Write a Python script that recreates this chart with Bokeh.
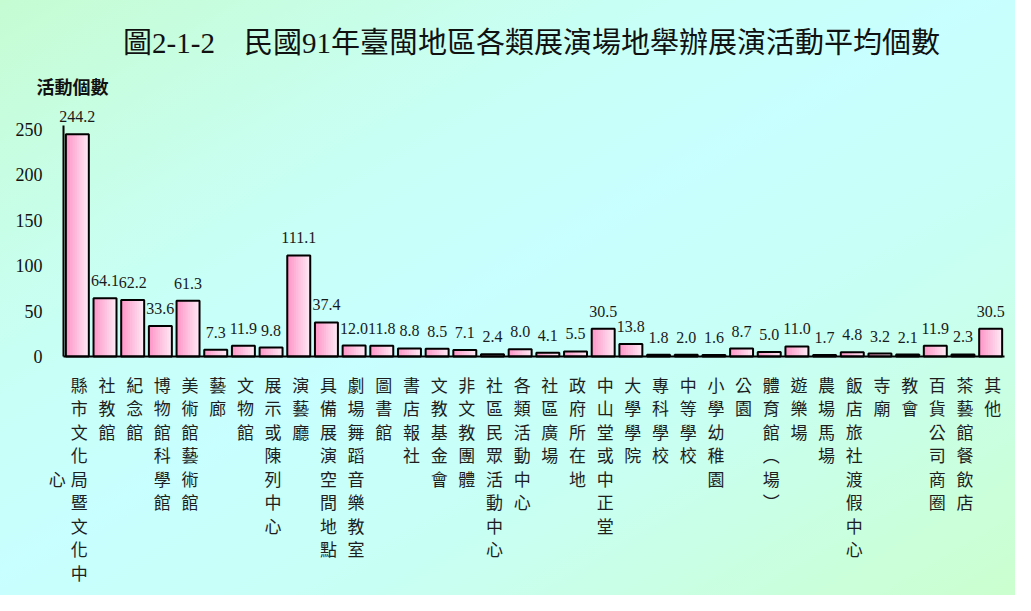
from bokeh.plotting import figure
from bokeh.models import ColumnDataSource, Range1d, Label, FixedTicker
from bokeh.transform import dodge
from bokeh.embed import file_html
from bokeh.resources import INLINE
from bokeh.core.properties import value

# ---------------- data ----------------
categories = [
    "縣市文化局暨文化中心", "社教館", "紀念館", "博物館科學館", "美術館藝術館",
    "藝廊", "文物館", "展示或陳列中心", "演藝廳", "具備展演空間地點",
    "劇場舞蹈音樂教室", "圖書館", "書店報社", "文教基金會", "非文教團體",
    "社區民眾活動中心", "各類活動中心", "社區廣場", "政府所在地", "中山堂或中正堂",
    "大學學院", "專科學校", "中等學校", "小學幼稚園", "公園",
    "體育館︵場︶", "遊樂場", "農場馬場", "飯店旅社渡假中心", "寺廟",
    "教會", "百貨公司商圈", "茶藝館餐飲店", "其他",
]
values = [
    244.2, 64.1, 62.2, 33.6, 61.3,
    7.3, 11.9, 9.8, 111.1, 37.4,
    12.0, 11.8, 8.8, 8.5, 7.1,
    2.4, 8.0, 4.1, 5.5, 30.5,
    13.8, 1.8, 2.0, 1.6, 8.7,
    5.0, 11.0, 1.7, 4.8, 3.2,
    2.1, 11.9, 2.3, 30.5,
]
y_ticks = [0, 50, 100, 150, 200, 250]
title_text = "圖2-1-2\u3000民國91年臺閩地區各類展演場地舉辦展演活動平均個數"
y_title = "活動個數"

# ---------------- layout ----------------
W, H = 1015, 595
n_cat = len(categories)
AX_LEFT, AX_RIGHT = 63.0, 1004.0          # figure px of the category band
px_per_cat = (AX_RIGHT - AX_LEFT) / n_cat
x_start = -0.5 - AX_LEFT / px_per_cat
x_end = n_cat - 0.5 + (W - AX_RIGHT) / px_per_cat

ZERO_PX = 356.0        # figure-relative y of value 0
PX_PER_UNIT = 0.91
y_end = ZERO_PX / PX_PER_UNIT
y_start = -(H - ZERO_PX) / PX_PER_UNIT

xs = list(range(n_cat))
src = ColumnDataSource(dict(
    x=xs,
    cat=categories,
    val=values,
    lbl=[f"{v:.1f}" for v in values],
))

p = figure(
    width=W, height=H, title=None,
    x_range=Range1d(x_start, x_end), y_range=Range1d(y_start, y_end),
    x_axis_location="below", y_axis_location="left",
    output_backend="svg", toolbar_location=None,
    min_border_left=0, min_border_right=0,
    min_border_top=0, min_border_bottom=0,
    background_fill_alpha=0, border_fill_alpha=0,
    outline_line_color=None,
)
p.styles = {
    "background": "linear-gradient(to bottom right, #c6fcd2 0%, #c8fff4 30%, "
                  "#c8ffff 48%, #c8fff4 68%, #cbffcf 100%)"
}
p.grid.visible = False

# y axis drawn at the left edge of the category band
ax = p.yaxis[0]
ax.fixed_location = -0.5
ax.ticker = FixedTicker(ticks=y_ticks)
ax.bounds = (0, 254)
ax.axis_line_color = "black"
ax.axis_line_width = 2
ax.major_tick_line_color = None
ax.minor_tick_line_color = None
ax.major_tick_in = 0
ax.major_tick_out = 0
ax.minor_tick_in = 0
ax.minor_tick_out = 0
ax.major_label_standoff = 21
ax.major_label_text_font = "Liberation Serif"
ax.major_label_text_font_size = "18px"
ax.major_label_text_color = "#111111"

# x axis = baseline at value 0
bx = p.xaxis[0]
bx.fixed_location = 0
bx.bounds = (-0.5, n_cat - 0.5)
bx.ticker = FixedTicker(ticks=[])
bx.axis_line_color = "black"
bx.axis_line_width = 2
bx.major_tick_line_color = None
bx.minor_tick_line_color = None
bx.major_label_text_font_size = "0px"

# ---------------- bars (gradient from strips) ----------------
BW = 0.83
N = 10
c0 = (0xff, 0x96, 0xc8)
c1 = (0xff, 0xe6, 0xf3)
for i in range(N):
    t = i / (N - 1)
    col = "#%02x%02x%02x" % tuple(round(a + (b - a) * t) for a, b in zip(c0, c1))
    off = -BW / 2 + BW * (i + 0.5) / N
    p.vbar(x=dodge("x", off), top="val", bottom=0,
           width=BW / N * 1.3, source=src, fill_color=col, line_color=None)
p.vbar(x="x", top="val", bottom=0, width=BW, source=src,
       fill_color=None, line_color="black", line_width=2)

# value labels
p.text(x="x", y="val", text="lbl", source=src,
       text_align="center", text_baseline="bottom", y_offset=-12,
       text_font=value("Liberation Serif"), text_font_size="16px",
       text_color="#1a1a1a")

# ---------------- vertical category labels ----------------
MAX_ROWS = 9
ROW0 = 27.7
ROW_PITCH = 23.5
cx, ch, xo, yo = [], [], [], []
for i, cat in enumerate(categories):
    chars = list(cat)
    main, extra = chars[:MAX_ROWS], chars[MAX_ROWS:]
    for r, c in enumerate(main):
        cx.append(i); ch.append(c); xo.append(2); yo.append(ROW0 + r * ROW_PITCH)
    for j, c in enumerate(extra):
        cx.append(i); ch.append(c); xo.append(2 - 22)
        yo.append(ROW0 + (MAX_ROWS // 2 + j) * ROW_PITCH)
lab_src = ColumnDataSource(dict(x=cx, ch=ch, xo=xo, yo=yo))
p.text(x="x", y=0, text="ch", source=lab_src, x_offset="xo", y_offset="yo",
       text_align="center", text_baseline="middle",
       text_font=value("Noto Sans CJK TC"), text_font_size="17px",
       text_color="#1e1e1e")

# ---------------- titles ----------------
p.add_layout(Label(
    x=531, y=H - 42, x_units="screen", y_units="screen",
    text=title_text, text_align="center", text_baseline="middle",
    text_font="'Liberation Serif', 'Noto Sans CJK TC'", text_font_size="29px",
    text_color="#111111",
))
p.add_layout(Label(
    x=36, y=H - 85, x_units="screen", y_units="screen",
    text=y_title, text_align="left", text_baseline="middle",
    text_font="Noto Sans CJK TC", text_font_style="bold", text_font_size="18px",
    text_color="#111111",
))

open("out.html", "w").write(file_html(p, INLINE))
